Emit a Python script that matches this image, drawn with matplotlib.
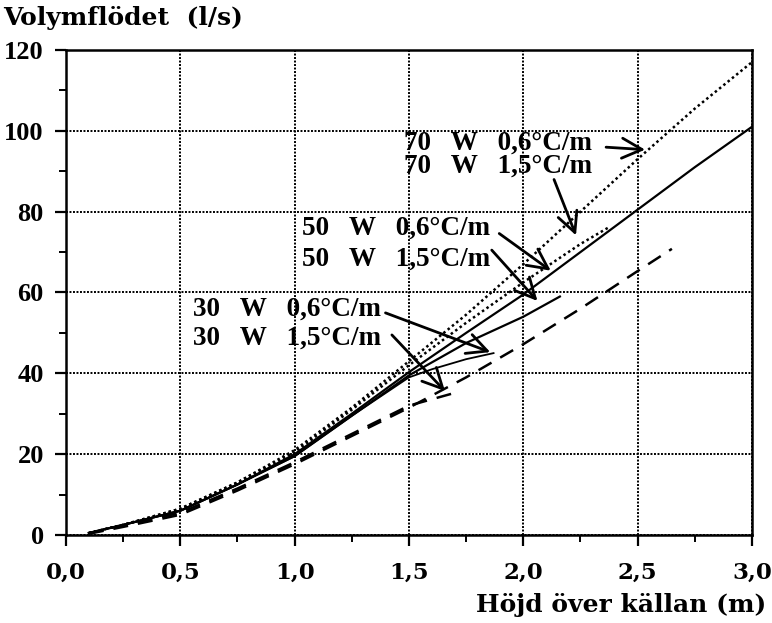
import matplotlib.pyplot as plt
from matplotlib.ticker import MultipleLocator, FuncFormatter

# Volymflöde (l/s) mot höjd över källan (m)
x_70_06 = [0.1, 0.25, 0.5, 0.75, 1.0, 1.25, 1.5, 1.75, 2.0, 2.25, 2.5, 2.75, 3.0]
q_70_06 = [0.5, 2.5, 6.5, 13, 21, 31.5, 43, 54.5, 67, 80, 93, 105.5, 117]

x_70_15 = [0.1, 0.25, 0.5, 0.75, 1.0, 1.25, 1.5, 1.75, 2.0, 2.25, 2.37]
q_70_15 = [0.5, 2.5, 6.5, 13, 20.5, 31, 42, 52.5, 62.5, 72, 76]

x_50_06 = [0.1, 0.25, 0.5, 0.75, 1.0, 1.25, 1.5, 1.75, 2.0, 2.25, 2.5, 2.75, 3.0]
q_50_06 = [0.5, 2.5, 6, 12.5, 20, 30, 40.3, 50, 59.5, 70, 80.5, 91, 101]

x_50_15 = [0.1, 0.25, 0.5, 0.75, 1.0, 1.25, 1.5, 1.75, 2.0, 2.16]
q_50_15 = [0.5, 2.5, 6, 12.5, 19.5, 29.5, 39.5, 47.5, 54, 59]

x_30_06 = [0.1, 0.25, 0.5, 0.75, 1.0, 1.25, 1.5, 1.6, 1.75, 1.87]
q_30_06 = [0.5, 2.5, 6, 12.5, 19.5, 29.5, 39, 41, 43.5, 45]

x_30_15 = [0.1, 0.25, 0.5, 0.75, 1.0, 1.25, 1.5, 1.69]
q_30_15 = [0.4, 2.3, 5.5, 11.5, 18, 25, 32, 35]

x_ref = [0.1, 0.25, 0.5, 0.75, 1.0, 1.25, 1.5, 1.75, 2.0, 2.25, 2.5, 2.65]
q_ref = [0.3, 2, 5, 11, 17.5, 24.5, 31.5, 39, 47.2, 56, 65.3, 70.8]

labels = ['70   W   0,6°C/m', '70   W   1,5°C/m',
          '50   W   0,6°C/m', '50   W   1,5°C/m',
          '30   W   0,6°C/m', '30   W   1,5°C/m']
label_pos = [(1.48, 95.3), (1.48, 89.6), (1.03, 74.4), (1.03, 66.7), (0.555, 54.3), (0.555, 47.2)]
arrow_from = [(2.35, 96.0), (2.13, 88.6), (1.885, 75), (1.854, 71), (1.386, 55.2), (1.417, 50)]
arrow_to = [(2.545, 95.3), (2.235, 73.5), (2.13, 65), (2.07, 57.4), (1.867, 45), (1.666, 35.1)]

serif = ['Liberation Serif', 'DejaVu Serif']
wide = ['DejaVu Serif']
plt.rcParams['font.family'] = serif
plt.rcParams['font.weight'] = 'bold'

fig = plt.figure(figsize=(7.72, 6.23), dpi=100)
ax = fig.add_axes([0.0855, 0.1413, 0.8885, 0.7784])

ax.plot(x_70_06, q_70_06, color='black', lw=1.8, ls=(0, (1, 1.2)))
ax.plot(x_70_15, q_70_15, color='black', lw=1.8, ls=(0, (1, 1.2)))
ax.plot(x_50_06, q_50_06, color='black', lw=1.6)
ax.plot(x_50_15, q_50_15, color='black', lw=1.6)
ax.plot(x_30_06, q_30_06, color='black', lw=1.3)
ax.plot(x_30_15, q_30_15, color='black', lw=1.8, ls=(0, (6, 4)))
ax.plot(x_ref, q_ref, color='black', lw=1.8, ls=(0, (6, 4)))

for lab, p, a, b in zip(labels, label_pos, arrow_from, arrow_to):
    ax.text(p[0], p[1], lab, fontweight='bold', fontsize=19.5,
            va='baseline', ha='left')
    ax.annotate('', xy=b, xytext=a,
                arrowprops=dict(arrowstyle='->,head_length=0.6,head_width=0.3',
                                color='black', lw=2, mutation_scale=24))

ax.set_xlim(0, 3.0)
ax.set_ylim(0, 120)
ax.xaxis.set_major_locator(MultipleLocator(0.5))
ax.xaxis.set_minor_locator(MultipleLocator(0.25))
ax.yaxis.set_major_locator(MultipleLocator(20))
ax.yaxis.set_minor_locator(MultipleLocator(10))
ax.xaxis.set_major_formatter(FuncFormatter(lambda v, p: f'{v:.1f}'.replace('.', ',')))
ax.grid(True, which='major', color='black', lw=1.4, ls=(0, (1, 0.8)))
ax.tick_params(which='major', direction='out', length=8, width=1.6)
ax.tick_params(which='minor', direction='out', length=5, width=1.4)
ax.tick_params(axis='x', which='major', pad=11, labelsize=16.5, labelfontfamily='DejaVu Serif')
ax.tick_params(axis='y', which='major', pad=8, labelsize=19)
for s in ax.spines.values():
    s.set_linewidth(1.8)

fig.text(0.004, 0.971, 'Volymflödet  (l/s)', family=wide, fontweight='bold',
         fontsize=18, ha='left', va='center')
fig.text(0.992, 0.029, 'Höjd över källan (m)', family=wide, fontweight='bold',
         fontsize=18, ha='right', va='center')

fig.savefig('out.png', dpi=100)
